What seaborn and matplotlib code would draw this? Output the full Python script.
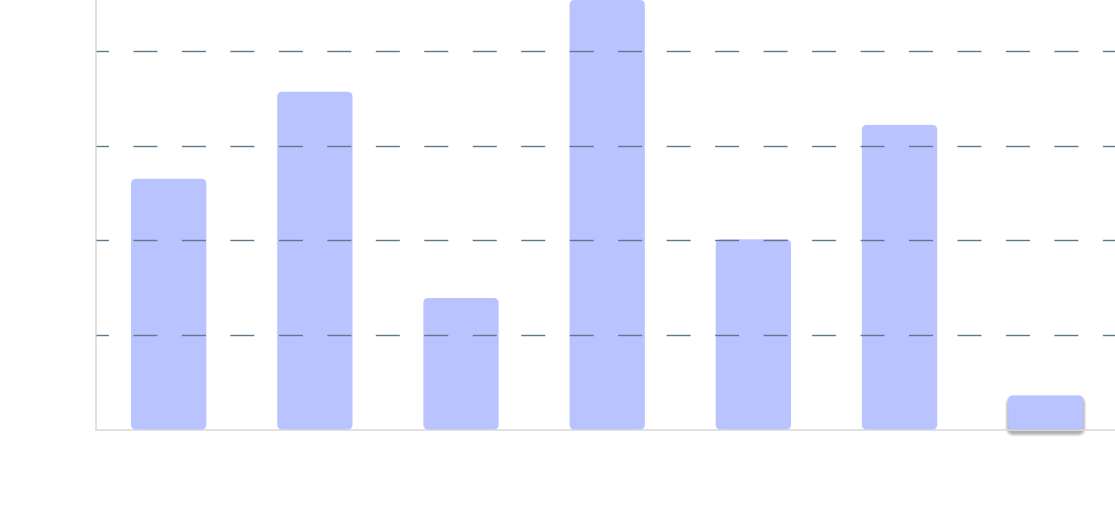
import matplotlib
matplotlib.use("Agg")
import matplotlib.pyplot as plt
import seaborn as sns
import pandas as pd
from matplotlib.patches import FancyBboxPatch

categories = ["A", "B", "C", "D", "E", "F", "G"]
values = [265, 357, 139, 454, 201, 322, 36]
grid_ticks = [100, 200, 300, 400]

sns.set_theme(style="white")
plt.rcParams["lines.scale_dashes"] = False

W, H, DPI = 1115, 512, 100
fig = plt.figure(figsize=(W / DPI, H / DPI), dpi=DPI)
ax = fig.add_axes([95.6 / W, 82.5 / H, 1023.2 / W, 429.5 / H])

df = pd.DataFrame({"cat": categories, "val": values})
sns.barplot(data=df, x="cat", y="val", color="#b8c3ff", saturation=1, width=0.515, ax=ax)

ax.set_ylim(0, max(values))
ax.set_xlim(-0.5, len(categories) - 0.5)

# convert bars to rounded rectangles
fig.canvas.draw()
px_per_x = ax.bbox.width / (ax.get_xlim()[1] - ax.get_xlim()[0])
px_per_y = ax.bbox.height / (ax.get_ylim()[1] - ax.get_ylim()[0])
aspect = px_per_x / px_per_y
r_px = 5
bars = list(ax.patches)
for i, p in enumerate(bars):
    x, y, w, h = p.get_x(), p.get_y(), p.get_width(), p.get_height()
    fc = p.get_facecolor()
    p.remove()
    if i == len(bars) - 1:
        # soft shadow under the last bar (blur approximated by layered patches)
        for k in range(8, 0, -1):
            grow = k * 0.5
            dx = (grow - 1) / px_per_x
            dyb = (3 + grow) / px_per_y
            dyt = (grow - 4) / px_per_y
            sh = FancyBboxPatch((x - dx, y - dyb), w + 2 * dx, h + dyb + dyt,
                                boxstyle=f"round,pad=0,rounding_size={(r_px + grow) / px_per_x}",
                                mutation_aspect=aspect, facecolor="black", edgecolor="none",
                                alpha=0.045, zorder=0.5, clip_on=False)
            ax.add_patch(sh)
    rp = FancyBboxPatch((x, y), w, h,
                        boxstyle=f"round,pad=0,rounding_size={r_px / px_per_x}",
                        mutation_aspect=aspect, facecolor=fc, edgecolor="none", zorder=1)
    ax.add_patch(rp)

ax.set_yticks(grid_ticks)
ax.set_xticks([])
ax.tick_params(left=False, bottom=False, labelleft=False, labelbottom=False)
ax.set_xlabel("")
ax.set_ylabel("")
ax.set_axisbelow(False)
ax.yaxis.grid(True, color="#607888", linewidth=1.0,
              linestyle=(8.3, (17.3, 17.6)))
ax.xaxis.grid(False)

for s in ["top", "right"]:
    ax.spines[s].set_visible(False)
for s in ["left", "bottom"]:
    ax.spines[s].set_color("#dcdcdc")
    ax.spines[s].set_linewidth(1.2)
    ax.spines[s].set_zorder(0.8)

fig.savefig("out.png", dpi=DPI, facecolor="white")
